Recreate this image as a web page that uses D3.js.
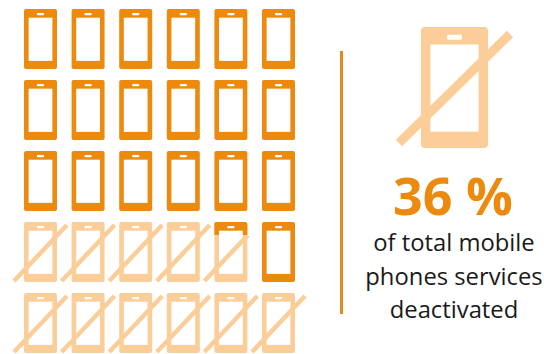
<!DOCTYPE html>
<html>
<head>
<meta charset="utf-8">
<script src="https://cdn.jsdelivr.net/npm/d3@7"></script>
<style>
html,body{margin:0;padding:0;background:#fff;overflow:hidden}
svg{display:block}
text{font-family:"Open Sans",Lato,sans-serif;text-anchor:middle}
</style>
</head>
<body>
<svg id="chart" width="544" height="354"></svg>
<script>
// Share of each phone that is deactivated, one list per row of the pictogram
const row1Off = [0, 0, 0, 0, 0, 0];
const row2Off = [0, 0, 0, 0, 0, 0];
const row3Off = [0, 0, 0, 0, 0, 0];
const row4Off = [1, 1, 1, 1, 0.8, 0];
const row5Off = [1, 1, 1, 1, 1, 1];
const rows = [row1Off, row2Off, row3Off, row4Off, row5Off];
const columns = [0, 1, 2, 3, 4, 5];

const headline = "36 %";
const captionLines = ["of total mobile", "phones services", "deactivated"];

const ACTIVE = "#ec8a0e";
const INACTIVE = "#fbcd98";
const RULE = "#e08b20";

const svg = d3.select("#chart");
const defs = svg.append("defs");

const x = d3.scalePoint().domain(columns).range([24, 262]);
const y = d3.scalePoint().domain(d3.range(rows.length)).range([9, 293]);

// Phone outline, screen and speaker, all proportional to the icon's box
function phone(g, w, h, fill) {
  g.append("rect").attr("width", w).attr("height", h).attr("rx", w * 0.06).attr("fill", fill);
  g.append("rect").attr("x", w * 0.14).attr("y", h * 0.145).attr("width", w * 0.72).attr("height", h * 0.72).attr("fill", "#fff");
  g.append("rect").attr("x", w * 0.39).attr("y", h * 0.065).attr("width", w * 0.22).attr("height", h * 0.04).attr("rx", 1).attr("fill", "#fff");
}

// Diagonal strike, running past the lower-left and upper-right corners
function strike(g, x0, y0, x1, y1, width) {
  g.append("line").attr("x1", x0).attr("y1", y0).attr("x2", x1).attr("y2", y1)
    .attr("stroke", INACTIVE).attr("stroke-width", width);
}

const W = 33, H = 60;
const cells = rows.flatMap((vals, r) => vals.map((off, c) => ({ r, c, off })));

const cell = svg.append("g").selectAll("g").data(cells).join("g")
  .attr("transform", d => `translate(${x(d.c)},${y(d.r)})`);

cell.each(function (d, i) {
  const g = d3.select(this);
  if (d.off === 0) { phone(g, W, H, ACTIVE); return; }
  phone(g, W, H, INACTIVE);
  const split = H * (1 - d.off);
  const lower = g.append("g");
  if (d.off < 1) {
    defs.append("clipPath").attr("id", `lower${i}`)
      .append("rect").attr("x", -20).attr("y", split + 2).attr("width", W + 60).attr("height", H);
    lower.attr("clip-path", `url(#lower${i})`);
  }
  strike(lower, -10, H - 1, W + 10, 3, 4.5);
  if (d.off < 1) {
    // Still-active part of a partly deactivated phone
    defs.append("clipPath").attr("id", `upper${i}`)
      .append("rect").attr("x", -1).attr("y", -1).attr("width", W + 2).attr("height", split + 2);
    phone(g.append("g").attr("clip-path", `url(#upper${i})`), W, H, ACTIVE);
  }
});

// Divider
svg.append("line").attr("x1", 341.5).attr("x2", 341.5).attr("y1", 51).attr("y2", 314)
  .attr("stroke", RULE).attr("stroke-width", 3);

// Key icon
const big = svg.append("g").attr("transform", "translate(421,27)");
phone(big, 67, 121, INACTIVE);
strike(big, -22, 116, 89, 7, 9);

// Headline and caption
svg.append("text").attr("x", 453).attr("y", 215)
  .attr("font-size", 52).attr("font-weight", 700).attr("fill", ACTIVE).text(headline);

svg.append("g").selectAll("text").data(captionLines).join("text")
  .attr("x", 454).attr("y", (d, i) => [251, 285, 318][i])
  .attr("font-size", 23.8).attr("fill", "#1a1a1a").text(d => d);
</script>
</body>
</html>
